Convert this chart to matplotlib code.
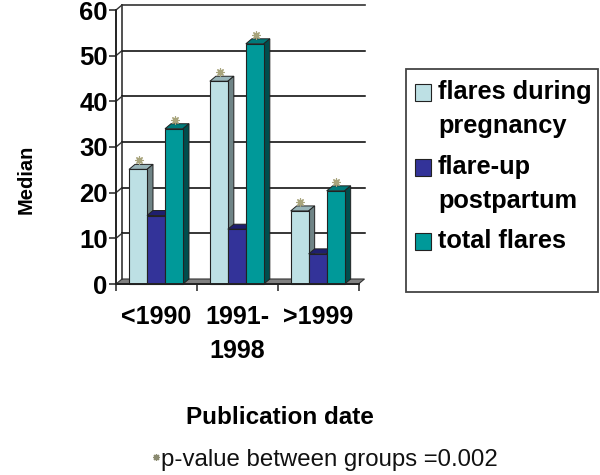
import matplotlib
matplotlib.use("Agg")
import matplotlib.pyplot as plt
from matplotlib.patches import Polygon, Rectangle

plt.rcParams['font.family'] = ['Liberation Sans', 'DejaVu Sans']

categories = ['<1990', '1991-\n1998', '>1999']
series_names = ['flares during\npregnancy', 'flare-up\npostpartum', 'total flares']
flares_pregnancy = [25.1, 44.4, 16.0]
flare_up_postpartum = [15.0, 12.0, 6.6]
total_flares = [34.0, 52.6, 20.4]
starred = [flares_pregnancy, None, total_flares]
series = [flares_pregnancy, flare_up_postpartum, total_flares]
yticks = [0, 10, 20, 30, 40, 50, 60]

front = ['#bde0e4', '#333399', '#009999']
top = ['#98b4b8', '#1f1f6e', '#007a7a']
side = ['#6f8486', '#14144a', '#004d4d']

W, H = 600, 475
fig = plt.figure(figsize=(W / 100, H / 100), dpi=100, facecolor='white')
L, R, B, T = 116, 358.5, 284, 10
ax = fig.add_axes([L / W, 1 - B / H, (R - L) / W, (B - T) / H])
ax.set_xlim(0, 3)
ax.set_ylim(0, 60)
ax.patch.set_visible(False)
for s in ax.spines.values():
    s.set_visible(False)

DX = 6 / ((R - L) / 3)           # depth offset in category units
DY = 5 / ((B - T) / 60)          # depth offset in value units
bw = 18 / ((R - L) / 3)
start = 13 / ((R - L) / 3)
WALL = dict(color='#333333', lw=1.2, clip_on=False)

# floor
ax.add_patch(Polygon([(0, 0), (3, 0), (3 + DX, DY), (DX, DY)], closed=True, fc='#808080',
                     ec='#333333', lw=0.8, clip_on=False, zorder=1))
# wall and grid
ax.plot([DX, DX], [DY, 60 + DY], zorder=1, **WALL)
ax.plot([0, 0], [0, 60], zorder=4, color='#222222', lw=1.4, clip_on=False)
ax.plot([DX, 3 + DX], [60 + DY, 60 + DY], zorder=1, **WALL)
for v in yticks[1:-1]:
    ax.plot([DX, 3 + DX], [v + DY, v + DY], zorder=1, color='black', lw=1.1, clip_on=False)
for v in yticks[1:]:
    ax.plot([0, DX], [v, v + DY], zorder=1, color='#333333', lw=1.0, clip_on=False)
ax.plot([0, 3], [0, 0], zorder=6, color='#222222', lw=1.4, clip_on=False)

# bars
for c in range(3):
    for i, vals in enumerate(series):
        x0 = c + start + i * bw
        v = vals[c]
        z = 3 + i * 0.1 + c
        ax.bar(x0, v, width=bw, align='edge', color=front[i], edgecolor='#222222',
               linewidth=0.8, zorder=z + 0.02, clip_on=False)
        ax.add_patch(Polygon([(x0, v), (x0 + bw, v), (x0 + bw + DX, v + DY), (x0 + DX, v + DY)],
                             closed=True, fc=top[i], ec='#222222', lw=0.7, zorder=z, clip_on=False))
        ax.add_patch(Polygon([(x0 + bw, 0), (x0 + bw + DX, DY), (x0 + bw + DX, v + DY), (x0 + bw, v)],
                             closed=True, fc=side[i], ec='#222222', lw=0.7, zorder=z, clip_on=False))
        if starred[i] is not None:
            ax.scatter([x0 + bw / 2 + 0.01], [v + DY + 0.9], marker=(8, 2, 0), s=28, c='#a8a47c',
                       linewidths=0.9, zorder=20, clip_on=False)

ax.set_yticks(yticks)
ax.set_xticks([0, 1, 2, 3])
ax.set_xticklabels([])
ax.tick_params(axis='both', length=5, width=1.1, color='#222222')
ax.tick_params(axis='y', labelsize=18.5, pad=1)
for t in ax.get_yticklabels():
    t.set_fontweight('bold')

centers = [0.5, 1.5, 2.5]
for x, lab in zip(centers, categories):
    ax.text(x, -4.6, lab, ha='center', va='top', fontsize=18, fontweight='bold',
            linespacing=1.55, clip_on=False)

fig.text(26 / W, 1 - 179 / H, 'Median', rotation=90, ha='center', va='center',
         fontsize=14.5, fontweight='bold')
fig.text(280 / W, 1 - 418 / H, 'Publication date', ha='center', va='center',
         fontsize=17.5, fontweight='bold')
fig.text(161 / W, 1 - 460 / H, 'p-value between groups =0.002', ha='left', va='center', fontsize=17.3,
         color='#111111')
fig.add_artist(plt.Line2D([155.5 / W], [1 - 457 / H], marker=(8, 2, 0), markersize=5, color='#8a8a70',
                          mew=0.9, transform=fig.transFigure))

# legend
fig.add_artist(Rectangle((406 / W, 1 - 292 / H), 192 / W, 223 / H, fc='white', ec='#444444', lw=1.3,
                         transform=fig.transFigure))
swatch_y = [92, 167, 241]
text_y = [109, 184, 241]
for name, col, sy, ty in zip(series_names, front, swatch_y, text_y):
    fig.add_artist(Rectangle((414.5 / W, 1 - (sy + 8.5) / H), 16.5 / W, 17 / H, fc=col, ec='#222222', lw=0.8,
                             transform=fig.transFigure))
    fig.text(438 / W, 1 - ty / H, name, ha='left', va='center', fontsize=18.3, fontweight='bold',
             linespacing=1.5)

fig.savefig('out.png', dpi=100, facecolor='white')
